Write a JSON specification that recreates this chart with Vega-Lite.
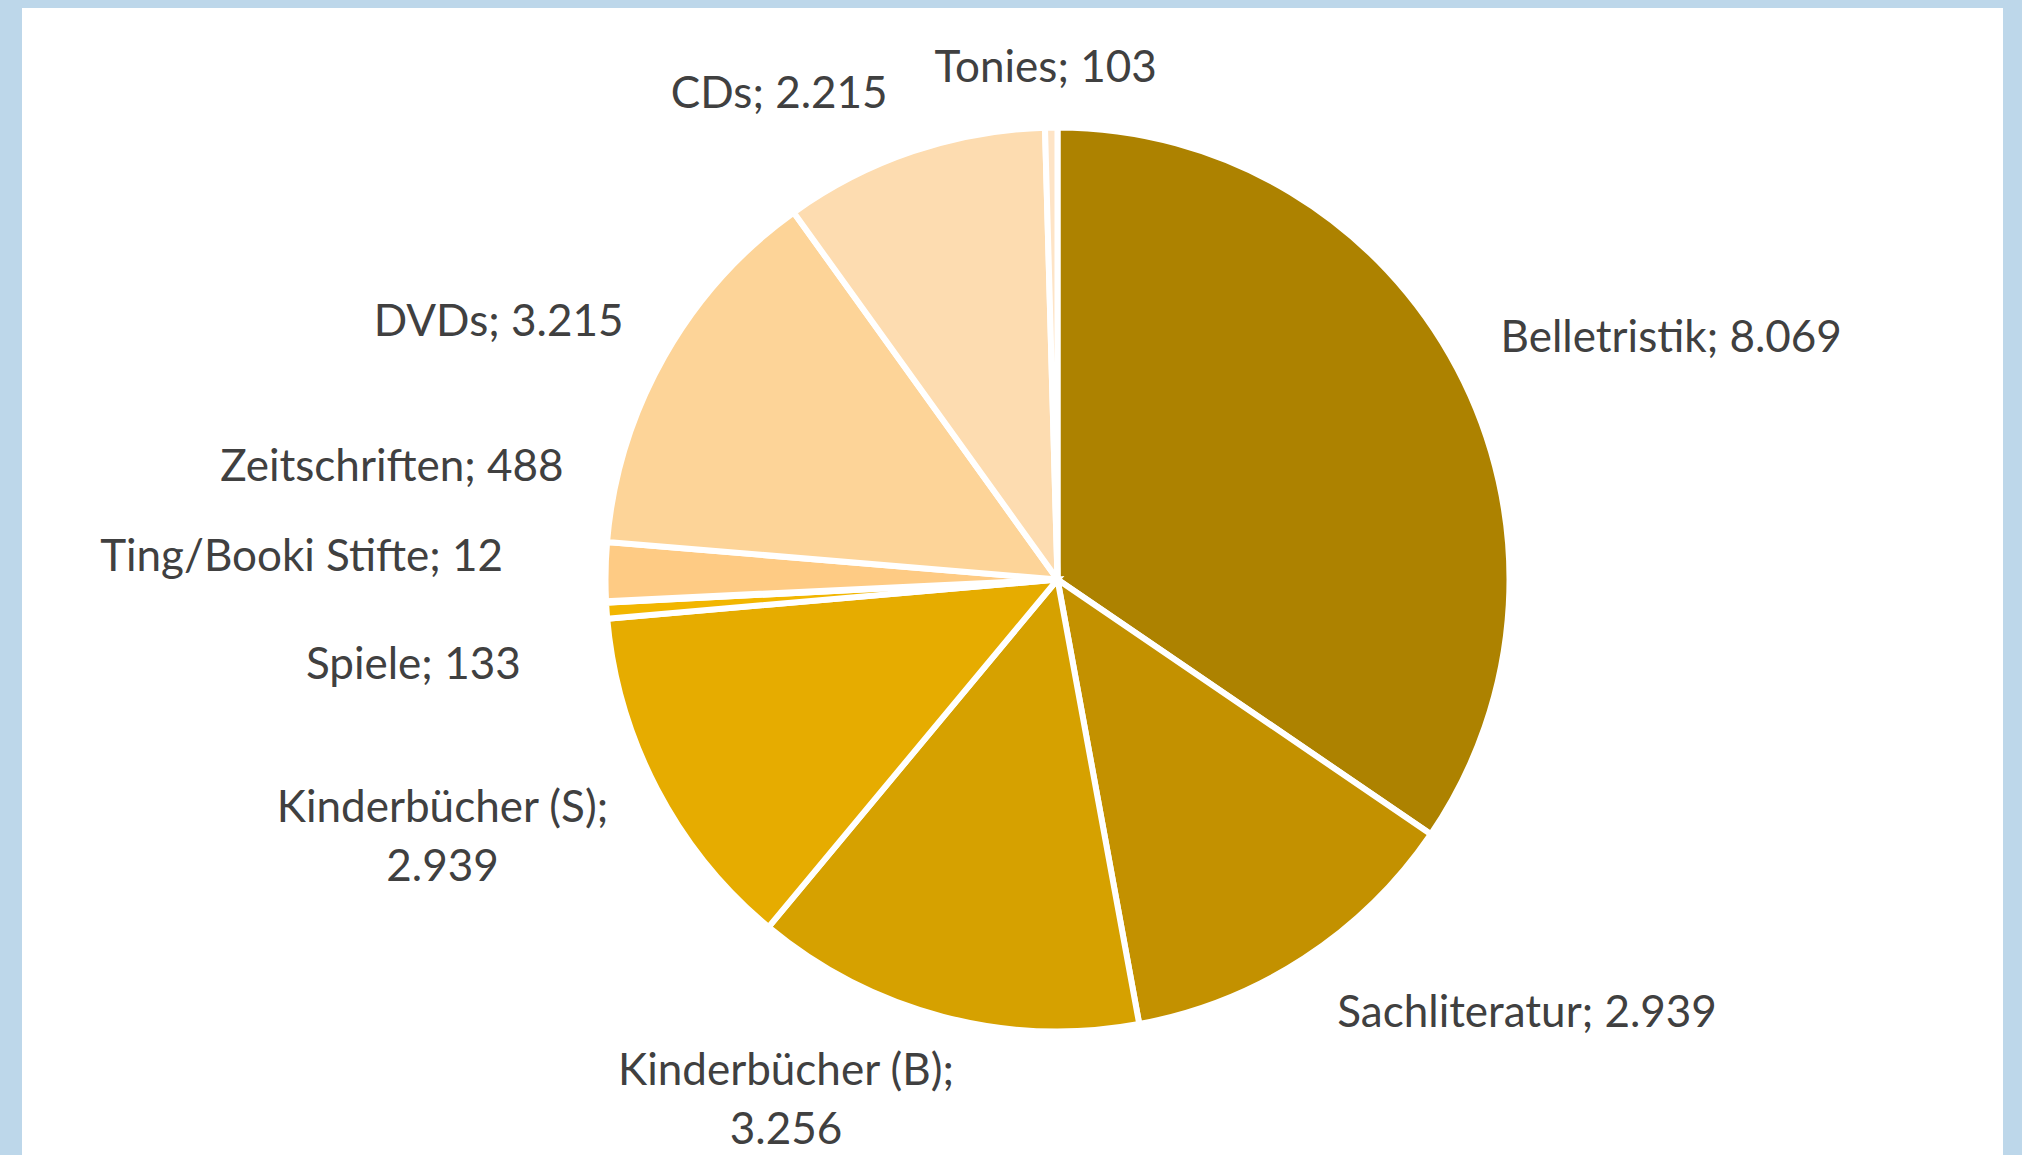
{
  "$schema": "https://vega.github.io/schema/vega-lite/v6.json",
  "autosize": {"type": "none"},
  "width": 1981,
  "height": 1147,
  "padding": {"left": 22, "top": 8, "right": 19, "bottom": 0},
  "background": "#BDD7EA",
  "view": {"fill": "#FFFFFF", "stroke": null},
  "config": {"view": {"fill": "#FFFFFF", "stroke": null}},
  "data": {
    "values": [
      {"ord": 1, "category": "Belletristik", "value": 8069},
      {"ord": 2, "category": "Sachliteratur", "value": 2939},
      {"ord": 3, "category": "Kinderbücher (B)", "value": 3256},
      {"ord": 4, "category": "Kinderbücher (S)", "value": 2939},
      {"ord": 5, "category": "Spiele", "value": 133},
      {"ord": 6, "category": "Ting/Booki Stifte", "value": 12},
      {"ord": 7, "category": "Zeitschriften", "value": 488},
      {"ord": 8, "category": "DVDs", "value": 3215},
      {"ord": 9, "category": "CDs", "value": 2215},
      {"ord": 10, "category": "Tonies", "value": 103}
    ]
  },
  "encoding": {
    "theta": {"field": "value", "type": "quantitative", "stack": true},
    "order": {"field": "ord", "type": "quantitative"}
  },
  "layer": [
    {
      "mark": {
        "type": "arc",
        "outerRadius": 452,
        "stroke": "#FFFFFF",
        "strokeWidth": 6,
        "x": {"expr": "width/2+45"},
        "y": {"expr": "height/2-2"}
      },
      "encoding": {
        "color": {
          "field": "category",
          "type": "nominal",
          "scale": {
            "domain": ["Belletristik", "Sachliteratur", "Kinderbücher (B)", "Kinderbücher (S)", "Spiele", "Ting/Booki Stifte", "Zeitschriften", "DVDs", "CDs", "Tonies"],
            "range": ["#AD8200", "#C39100", "#D6A100", "#E6AC00", "#F2B600", "#F8C050", "#FECB84", "#FDD498", "#FDDCB0", "#FEE4C6"]
          },
          "legend": null
        }
      }
    },
    {
      "transform": [
        {"calculate": "datum.category + (datum.ord == 3 || datum.ord == 4 ? ';\\n' : '; ') + replace(format(datum.value, ','), ',', '.')", "as": "label"}
      ],
      "mark": {
        "type": "text",
        "radius": 500,
        "x": {"expr": "width/2+45"},
        "y": {"expr": "height/2-2"},
        "font": "Lato",
        "fontSize": 44,
        "fill": "#404040",
        "lineBreak": "\n",
        "lineHeight": 59,
        "baseline": "middle",
        "align": {"expr": "['left','left','center','center','right','right','right','right','right','center'][datum.ord-1]"},
        "dx": {"expr": "[1,7,-145,-172,-38,-55,6,1,-10,-5][datum.ord-1]"},
        "dy": {"expr": "[-7,15,9,-2,52,-46,-103,-10,-11,-11][datum.ord-1]"}
      },
      "encoding": {
        "text": {"field": "label", "type": "nominal"}
      }
    }
  ]
}
